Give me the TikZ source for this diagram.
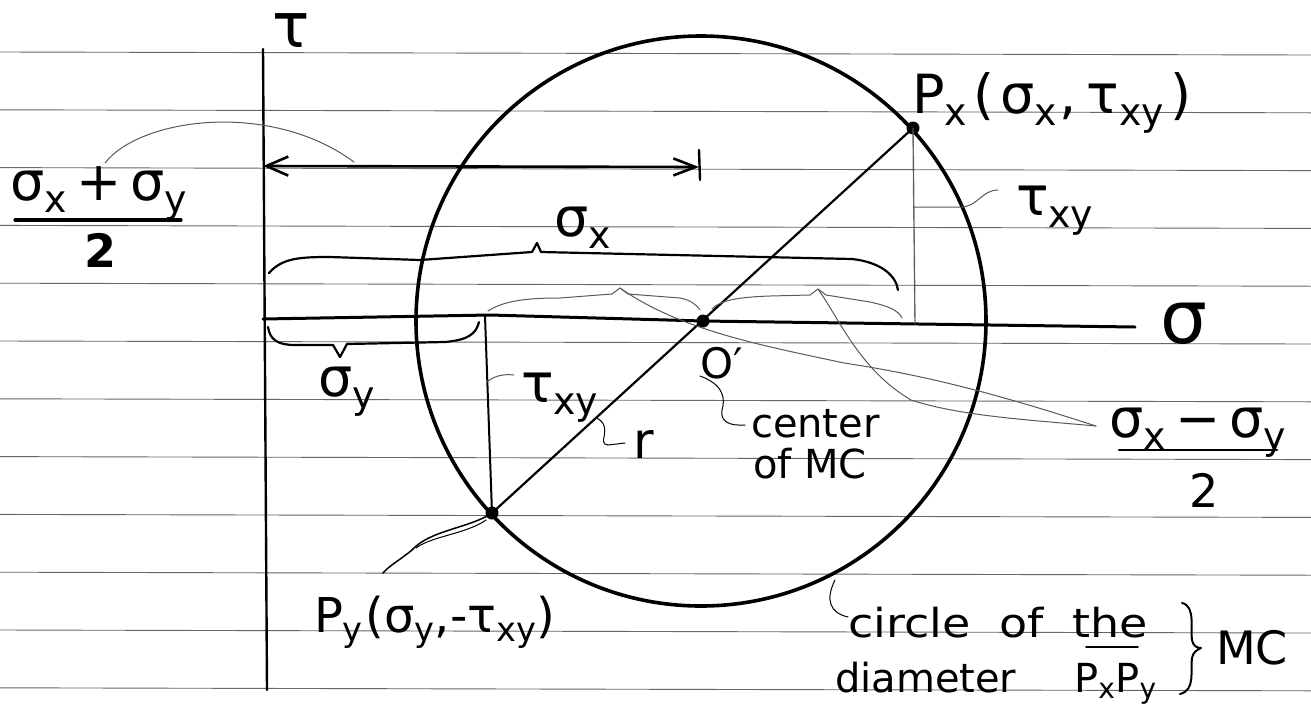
\documentclass[tikz,border=0pt]{standalone}
\usepackage{fontspec}
\setmainfont{DejaVu Sans}
\usepackage{graphicx}
\usetikzlibrary{arrows.meta}
\tikzset{
  ink/.style={line width=2.4pt, black, line cap=round, line join=round},
  heavyink/.style={line width=3.2pt, black, line cap=round, line join=round},
  faint/.style={line width=1pt, black!65, line cap=round, line join=round},
  ruling/.style={line width=0.9pt, black!60},
  lbl/.style={inner sep=0pt, outer sep=0pt, anchor=base west},
  dot/.style={circle, fill=black, inner sep=0pt, minimum size=13pt},
}
\newcommand\fs[1]{\fontsize{#1}{#1}\selectfont}
\begin{document}
\begin{tikzpicture}[x=1pt,y=-1pt]
\useasboundingbox (0,0) rectangle (1311,721);
\fill[white] (0,0) rectangle (1311,721);
% ruled paper
\foreach \k in {0,...,11} \draw[ruling] (0,{52+57.8*\k}) -- (1311,{55+57.8*\k});

% key points
\node[dot] (O) at (703,321) {};
\node[dot] (Px) at (913,128) {};
\node[dot] (Py) at (492,513) {};

% Mohr circle
\node[draw, circle, line width=3.6pt, minimum size=570pt, inner sep=0pt] (mc) at (701,321) {};

% axes
\coordinate (ttop) at (263,49);
\coordinate (tbot) at (267,690);
\draw[ink] (ttop) -- (tbot);
\coordinate (org) at (263,319);
\coordinate (send) at (1135,327);
\draw[ink, line width=3pt] (org) -- (490,315) -- (O.center) -- (send);

% diameter
\draw[ink, line width=2.2pt] (Py.center) -- (Px.center);

% average stress arrow
\coordinate (aL) at (263,166);
\coordinate (aR) at (699,167);
\draw[ink, line width=2.6pt, {Straight Barb[length=22pt,width=19pt]}-{Straight Barb[length=22pt,width=17pt]}] (aL) -- (aR);
\coordinate (barT) at (699,150);
\coordinate (barB) at (700,180);
\draw[ink] (barT) -- (barB);

% labels
\node[lbl] (taulbl) at (272,47) {\fs{62}τ};
\node[lbl] (siglbl) at (1160,343) {\fs{74}σ};

\node[inner sep=0pt, anchor=base] (fnum) at (99,200) {\fs{54}σ\textsubscript{x}\,+\,σ\textsubscript{y}};
\coordinate (fbarL) at (15,220);
\coordinate (fbarR) at (181,220);
\draw[heavyink] (fbarL) -- (fbarR);
\node[inner sep=0pt, anchor=base] (ftwo) at (101,267) {\fs{46}\textbf{2}};
\coordinate (l1a) at (105,163);
\coordinate (l1b) at (354,162);
\draw[faint] (l1a) .. controls (140,118) and (270,100) .. (l1b);

\node[lbl] (sxl) at (554,236) {\fs{54}σ\textsubscript{x}};
\node[lbl] (syl) at (318,396) {\fs{54}σ\textsubscript{y}};

\node[lbl] (pxl) at (912,113) {\fs{54}P\textsubscript{x}\hspace{6pt}(\hspace{6pt}σ\textsubscript{x}\hspace{2pt},\hspace{10pt}τ\textsubscript{xy}\hspace{6pt})};
\node[lbl] (rtxy) at (1016,215) {\fs{54}τ\textsubscript{xy}};
\node[lbl] (ltxy) at (521,402) {\fs{54}τ\textsubscript{xy}};
\node[lbl] (rl) at (633,458) {\fs{50}r};
\node[lbl] (Ol) at (700,378) {\fs{42}O′};
\node[lbl] (cen1) at (751,437) {\fs{40}center};
\node[lbl] (cen2) at (753,478) {\fs{40}of MC};

\node[inner sep=0pt, anchor=base] (dnum) at (1198,437) {\fs{54}σ\textsubscript{x}\,−\,σ\textsubscript{y}};
\coordinate (dbarL) at (1119,450);
\coordinate (dbarR) at (1277,450);
\draw[ink, line width=2.5pt] (dbarL) -- (dbarR);
\node[inner sep=0pt, anchor=base] (dtwo) at (1204,507) {\fs{46}2};

\node[lbl] (pyl) at (314,632) {\fs{48}P\textsubscript{y}\hspace{2pt}(σ\textsubscript{y},-τ\textsubscript{xy})};

\node[lbl] (circ) at (848,637) {\fs{40}\scalebox{1.15}[1]{circle\hspace{25pt}of\hspace{25pt}the}};
\coordinate (ulL) at (1086,647);
\coordinate (ulR) at (1138,647);
\draw[ink, line width=1.8pt] (ulL) -- (ulR);
\node[lbl] (diam) at (835,692) {\fs{40}diameter\hspace{58pt}P\textsubscript{x}P\textsubscript{y}};
\node[lbl] (mcl) at (1216,664) {\fs{46}MC};

% braces
\draw[ink, line width=2.2pt] (269,273) .. controls (282,258) and (300,257) .. (330,257) -- (420,260) -- (532,252) -- (537,243) -- (541,252) -- (852,259) .. controls (880,262) and (896,275) .. (898,290);
\draw[ink, line width=2.2pt] (268,327) .. controls (270,340) and (278,345) .. (295,345) -- (333,345) -- (340,357) -- (347,344) -- (445,342) .. controls (468,340) and (476,334) .. (479,322);
\draw[faint] (488,311) .. controls (505,300) and (530,298) .. (560,298) -- (612,294) -- (620,288) -- (628,294) -- (680,298) .. controls (690,300) and (696,304) .. (700,310);
\draw[faint] (712,309) .. controls (720,300) and (740,297) .. (770,296) -- (810,295) -- (818,289) -- (826,295) -- (870,302) .. controls (888,306) and (898,310) .. (902,318);
\draw[ink, line width=2pt] (1182,603) .. controls (1196,606) and (1190,630) .. (1192,640) .. controls (1193,646) and (1197,648) .. (1201,648) .. controls (1197,650) and (1193,652) .. (1192,658) .. controls (1190,670) and (1196,690) .. (1180,694);

% tau_xy segments
\coordinate (sy) at (485,316);
\draw[ink, line width=2pt] (sy) -- (Py.center);
\coordinate (sxfoot) at (915,324);
\draw[faint, densely dotted, line width=1.4pt] (Px.center) -- (sxfoot);

% leaders
\coordinate (h1) at (913,207);
\coordinate (h1e) at (998,190);
\draw[faint] (h1) -- (962,207) .. controls (978,206) and (982,190) .. (h1e);
\coordinate (h2) at (487,382);
\coordinate (h2e) at (514,375);
\draw[faint] (h2) .. controls (495,375) and (505,374) .. (h2e);
\coordinate (rA) at (597,418);
\coordinate (rB) at (625,443);
\draw[faint, black] (rA) .. controls (614,428) and (596,444) .. (608,445) -- (rB);
\coordinate (oA) at (700,376);
\coordinate (oB) at (745,425);
\draw[faint, black] (oA) .. controls (725,385) and (725,400) .. (722,410) .. controls (720,422) and (730,426) .. (oB);
\coordinate (cA) at (835,580);
\coordinate (cB) at (848,617);
\draw[faint, black] (cA) .. controls (825,600) and (830,613) .. (cB);
\coordinate (pA) at (383,573);
\draw[ink, line width=1.5pt] (Py.center) .. controls (470,528) and (430,530) .. (412,550) .. controls (400,560) and (390,565) .. (pA);
\draw[faint, black] (486,520) .. controls (466,534) and (432,536) .. (416,548);
\coordinate (fA) at (1096,426);
\draw[faint] (620,288) .. controls (680,330) and (760,345) .. (844,363) .. controls (930,376) and (1000,395) .. (fA);
\draw[faint] (818,289) .. controls (840,320) and (860,370) .. (911,400) .. controls (960,416) and (1030,420) .. (fA);
\end{tikzpicture}
\end{document}
